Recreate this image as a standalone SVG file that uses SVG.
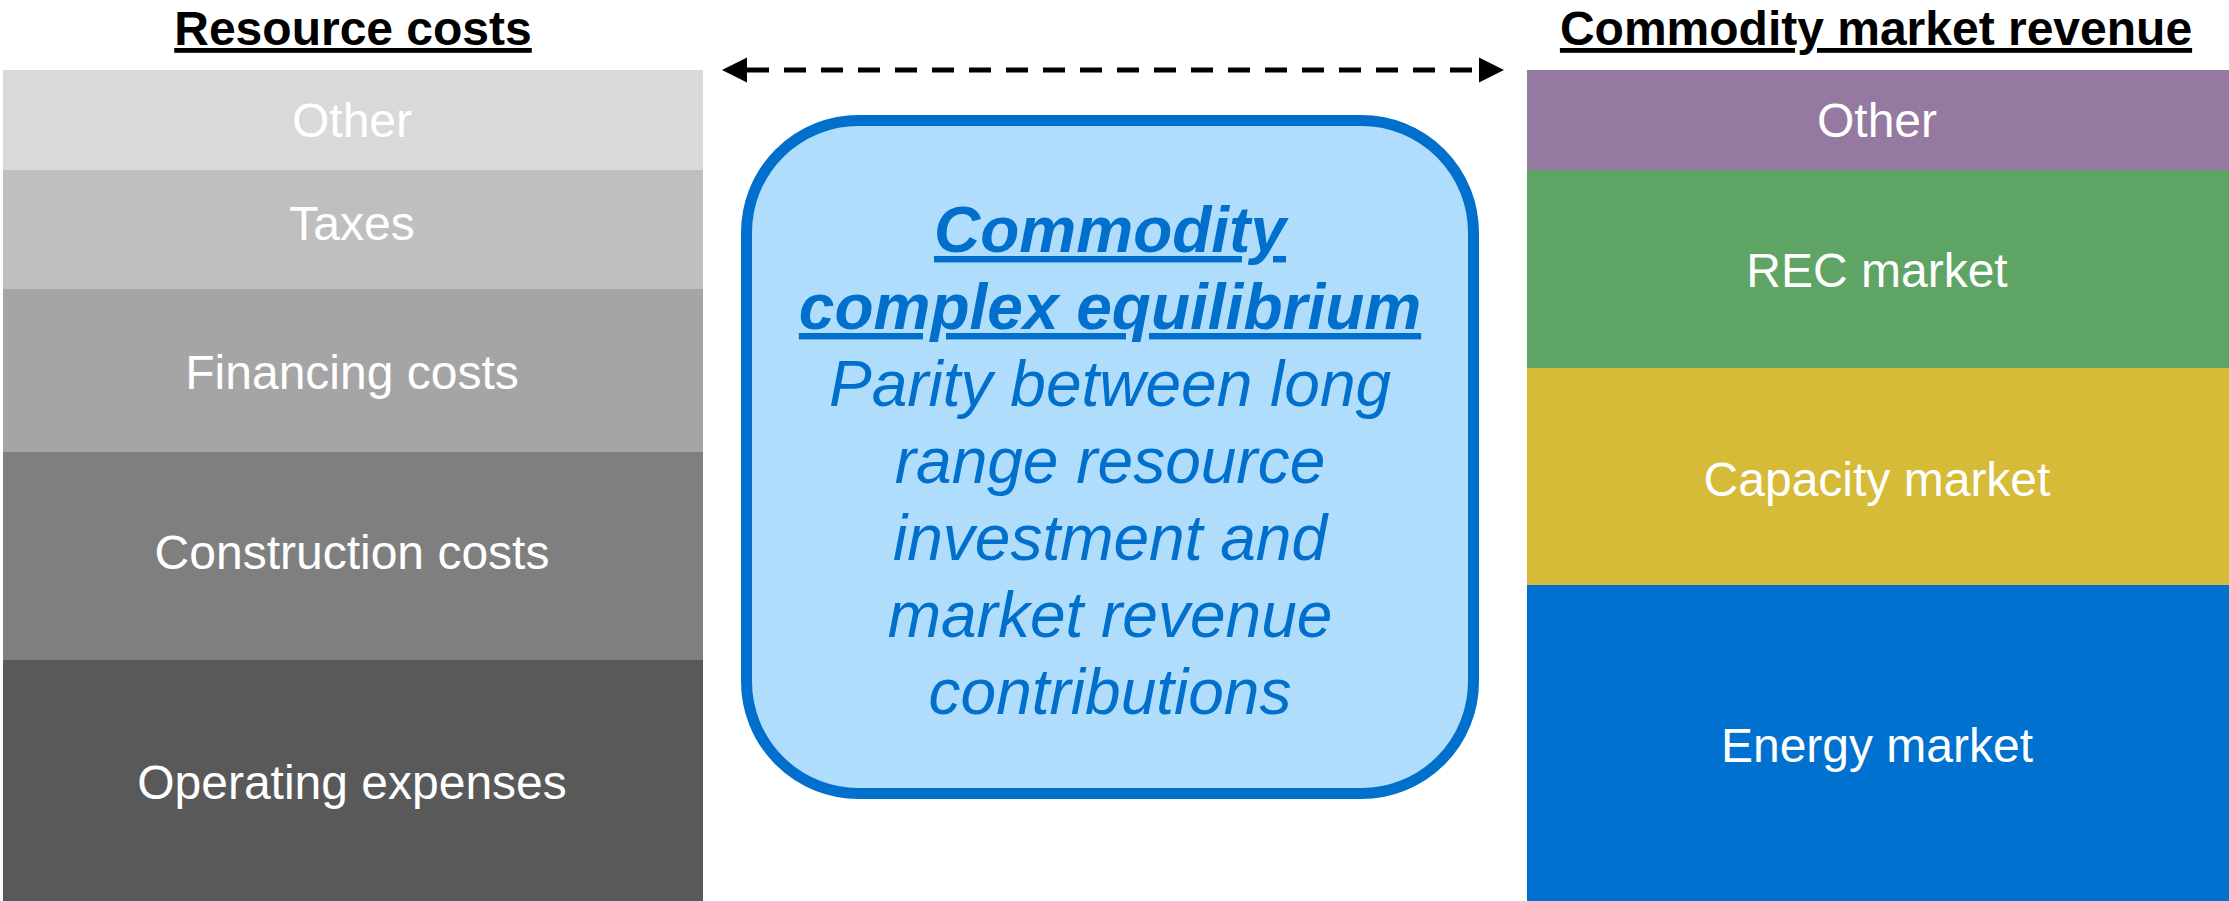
<svg xmlns="http://www.w3.org/2000/svg" width="2229" height="901" viewBox="0 0 2229 901">
<style>
text{font-family:"Liberation Sans",Arial,sans-serif;text-anchor:middle}
.lbl{font-size:48px;fill:#ffffff}
.ttl{font-size:48px;font-weight:bold;fill:#000000;text-decoration:underline}
.bx{font-size:64px;fill:#0070cc;font-style:italic}
.bxb{font-weight:bold;text-decoration:underline}
</style>
<defs>
<marker id="ah" viewBox="0 0 10 10" refX="0" refY="5" markerWidth="5" markerHeight="5.4" orient="auto-start-reverse" markerUnits="strokeWidth">
<path d="M0,0 L10,5 L0,10 Z" fill="#000"/>
</marker>
</defs>
<rect width="2229" height="901" fill="#ffffff"/>
<g id="title-left"><text class="ttl" x="353" y="45">Resource costs</text></g>
<g id="title-right"><text class="ttl" x="1876" y="45">Commodity market revenue</text></g>
<g id="cost-other"><rect x="3" y="70" width="700" height="100" fill="#d9d9d9"/><text class="lbl" x="352" y="137">Other</text></g>
<g id="cost-taxes"><rect x="3" y="170" width="700" height="119" fill="#bfbfbf"/><text class="lbl" x="352" y="240">Taxes</text></g>
<g id="cost-financing"><rect x="3" y="289" width="700" height="163" fill="#a5a5a5"/><text class="lbl" x="352" y="389">Financing costs</text></g>
<g id="cost-construction"><rect x="3" y="452" width="700" height="208" fill="#7f7f7f"/><text class="lbl" x="352" y="569">Construction costs</text></g>
<g id="cost-operating"><rect x="3" y="660" width="700" height="241" fill="#595959"/><text class="lbl" x="352" y="799">Operating expenses</text></g>
<g id="rev-other"><rect x="1527" y="70" width="702" height="100" fill="#947aa0"/><text class="lbl" x="1877" y="137">Other</text></g>
<g id="rev-rec"><rect x="1527" y="170" width="702" height="198" fill="#5ea565"/><text class="lbl" x="1877" y="287">REC market</text></g>
<g id="rev-capacity"><rect x="1527" y="368" width="702" height="217" fill="#d6bb38"/><text class="lbl" x="1877" y="496">Capacity market</text></g>
<g id="rev-energy"><rect x="1527" y="585" width="702" height="316" fill="#0071ce"/><text class="lbl" x="1877" y="762">Energy market</text></g>
<g id="equilibrium">
<rect x="746.5" y="120.5" width="727" height="673" rx="112" ry="112" fill="#b1ddfd" stroke="#0070cc" stroke-width="11"/>
<text class="bx" x="1110" y="252"><tspan class="bxb">Commodity</tspan></text>
<text class="bx" x="1110" y="329"><tspan class="bxb">complex equilibrium</tspan></text>
<text class="bx" x="1110" y="406">Parity between long</text>
<text class="bx" x="1110" y="483">range resource</text>
<text class="bx" x="1110" y="560">investment and</text>
<text class="bx" x="1110" y="637">market revenue</text>
<text class="bx" x="1110" y="714">contributions</text>
</g>
<g id="connectors">
<line x1="747" y1="70" x2="1479" y2="70" stroke="#000" stroke-width="5" stroke-dasharray="22 15" marker-start="url(#ah)" marker-end="url(#ah)"/>
</g>
</svg>
